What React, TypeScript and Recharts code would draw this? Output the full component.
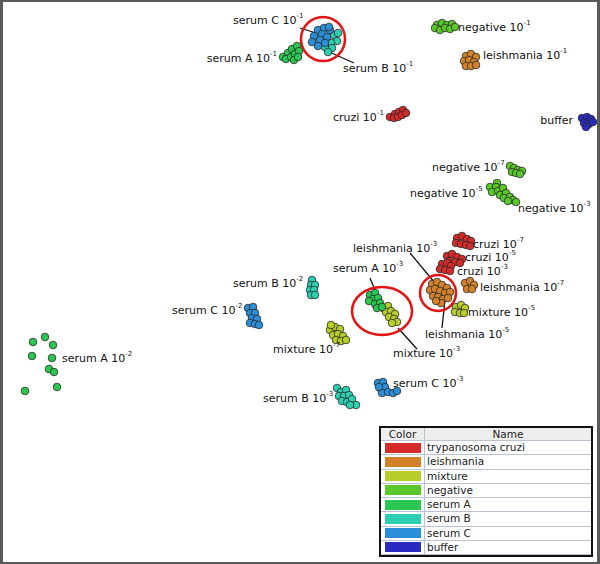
import { Legend, ReferenceDot, ReferenceLine, Scatter, ScatterChart, XAxis, YAxis } from "recharts";

type Pt = [number, number];

// point positions (x right, y down)
const cruziPoints: Pt[] = [
  [390, 117], [395, 114], [399, 112], [403, 110], [394, 118], [398, 117], [402, 115], [406, 113],
  [457, 238], [462, 236], [467, 239], [471, 241], [456, 243], [461, 244], [466, 245], [470, 246],
  [447, 256], [452, 254], [457, 257], [462, 259], [449, 261], [455, 262], [460, 263],
  [442, 264], [447, 263], [451, 266], [440, 269], [445, 270], [450, 271],
];
const leishmaniaPoints: Pt[] = [
  [466, 56], [471, 54], [476, 57], [464, 61], [469, 60], [474, 62], [466, 66], [471, 66], [476, 65],
  [465, 283], [470, 281], [474, 285], [467, 289], [472, 289],
  [432, 284], [437, 282], [442, 285], [447, 288], [430, 290], [435, 289], [440, 291], [445, 293],
  [450, 292], [433, 296], [438, 297], [443, 299], [448, 298], [441, 303], [436, 301],
];
const mixturePoints: Pt[] = [
  [456, 307], [461, 305], [465, 308], [455, 312], [460, 313], [464, 313],
  [383, 308], [388, 306], [386, 312], [391, 311], [395, 314], [389, 317], [394, 319], [397, 322], [392, 323],
  [330, 330], [335, 327], [340, 329], [333, 335], [338, 334], [343, 336], [336, 340], [341, 341], [346, 340], [331, 325],
];
const negativePoints: Pt[] = [
  [437, 25], [442, 23], [447, 25], [452, 24], [435, 28], [440, 30], [445, 28], [450, 29], [455, 27],
  [510, 166], [514, 168], [518, 170], [522, 171], [512, 172], [516, 173], [520, 174],
  [497, 183], [490, 187], [496, 187], [492, 192], [498, 191], [503, 188], [500, 195], [506, 193],
  [504, 198], [510, 197], [513, 200], [508, 201], [516, 202],
];
const serumAPoints: Pt[] = [
  [283, 57], [288, 53], [292, 49], [297, 46], [286, 59], [291, 57], [295, 54], [299, 51], [294, 60], [298, 57],
  [370, 295], [375, 293], [373, 299], [378, 298], [369, 301], [375, 304], [380, 303], [377, 308], [382, 307],
  [33, 342], [45, 337], [53, 345], [32, 356], [52, 358], [49, 369], [54, 372], [57, 387], [25, 391],
];
const serumBPoints: Pt[] = [
  [334, 35], [337, 41], [331, 43], [325, 47], [332, 48], [328, 52], [338, 33], [322, 42],
  [312, 280], [311, 285], [315, 285], [310, 290], [314, 290], [311, 295], [315, 295],
  [337, 388], [341, 392], [346, 390], [339, 396], [344, 396], [349, 395], [342, 401], [347, 402],
  [352, 399], [356, 405], [350, 405],
];
const serumCPoints: Pt[] = [
  [318, 30], [324, 28], [330, 30], [322, 34], [314, 36], [320, 40], [327, 37], [312, 42], [318, 46], [325, 43], [329, 27],
  [248, 308], [253, 307], [250, 313], [255, 313], [252, 318], [257, 319], [250, 323], [255, 324], [259, 325],
  [378, 383], [383, 382], [380, 388], [385, 387], [382, 393], [388, 392], [393, 393], [397, 391], [379, 387],
];
const bufferPoints: Pt[] = [[582, 118], [587, 117], [591, 119], [584, 123], [589, 124], [586, 127], [593, 122]];

const categories = [
  { name: "trypanosoma cruzi", color: "#d42a2a", points: cruziPoints },
  { name: "leishmania", color: "#d4822a", points: leishmaniaPoints },
  { name: "mixture", color: "#b8cc2a", points: mixturePoints },
  { name: "negative", color: "#5ac82a", points: negativePoints },
  { name: "serum A", color: "#2ac850", points: serumAPoints },
  { name: "serum B", color: "#2ad0b0", points: serumBPoints },
  { name: "serum C", color: "#2a8ed8", points: serumCPoints },
  { name: "buffer", color: "#2a2ac0", points: bufferPoints },
];

// cluster labels: text, exponent, anchor point, text anchor
const labels = [
  { x: 233, y: 20, text: "serum C 10", exp: "-1", anchor: "start" },
  { x: 277, y: 58, text: "serum A 10", exp: "-1", anchor: "end" },
  { x: 343, y: 68, text: "serum B 10", exp: "-1", anchor: "start" },
  { x: 458, y: 27, text: "negative 10", exp: "-1", anchor: "start" },
  { x: 483, y: 55, text: "leishmania 10", exp: "-1", anchor: "start" },
  { x: 573, y: 120, text: "buffer", exp: "", anchor: "end" },
  { x: 333, y: 117, text: "cruzi 10", exp: "-1", anchor: "start" },
  { x: 432, y: 167, text: "negative 10", exp: "-7", anchor: "start" },
  { x: 410, y: 193, text: "negative 10", exp: "-5", anchor: "start" },
  { x: 518, y: 208, text: "negative 10", exp: "-3", anchor: "start" },
  { x: 473, y: 244, text: "cruzi 10", exp: "-7", anchor: "start" },
  { x: 465, y: 257, text: "cruzi 10", exp: "-5", anchor: "start" },
  { x: 457, y: 271, text: "cruzi 10", exp: "-3", anchor: "start" },
  { x: 353, y: 248, text: "leishmania 10", exp: "-3", anchor: "start" },
  { x: 480, y: 287, text: "leishmania 10", exp: "-7", anchor: "start" },
  { x: 468, y: 312, text: "mixture 10", exp: "-5", anchor: "start" },
  { x: 425, y: 334, text: "leishmania 10", exp: "-5", anchor: "start" },
  { x: 333, y: 268, text: "serum A 10", exp: "-3", anchor: "start" },
  { x: 393, y: 353, text: "mixture 10", exp: "-3", anchor: "start" },
  { x: 233, y: 283, text: "serum B 10", exp: "-2", anchor: "start" },
  { x: 172, y: 310, text: "serum C 10", exp: "-2", anchor: "start" },
  { x: 273, y: 349, text: "mixture 10", exp: "-7", anchor: "start" },
  { x: 62, y: 358, text: "serum A 10", exp: "-2", anchor: "start" },
  { x: 263, y: 398, text: "serum B 10", exp: "-3", anchor: "start" },
  { x: 393, y: 383, text: "serum C 10", exp: "-3", anchor: "start" },
];

const leaders = [
  [300, 28, 316, 33],
  [327, 51, 354, 63],
  [410, 253, 435, 283],
  [445, 300, 442, 328],
  [370, 278, 375, 290],
  [398, 328, 417, 349],
];

const highlights = [
  { x: 323, y: 39, rx: 22, ry: 22 },
  { x: 438, y: 293, rx: 18, ry: 18 },
  { x: 382, y: 311, rx: 30, ry: 24 },
];

const FONT = "'DejaVu Sans', Verdana, sans-serif";

function LegendTable({ payload }: any) {
  const byName: Record<string, string> = {};
  (payload || []).forEach((p: any) => {
    byName[p.value] = p.color;
  });
  // keep the legend in the category order, not alphabetical
  const items = categories.map((c) => ({ value: c.name, color: byName[c.name] || c.color }));
  const cell = { borderBottom: "1px solid #b9c3d3", boxSizing: "border-box" as const };
  return (
    <div
      style={{
        width: 214,
        height: 131,
        border: "2px solid #111",
        boxSizing: "border-box",
        background: "#fff",
        fontFamily: FONT,
        fontSize: 10.5,
        color: "#222",
      }}
    >
      <div style={{ display: "flex", height: 13, background: "#eeeeee", ...cell }}>
        <div style={{ width: 43, textAlign: "center", borderRight: "1px solid #b9c3d3", lineHeight: "12px" }}>Color</div>
        <div style={{ flex: 1, textAlign: "center", lineHeight: "12px" }}>Name</div>
      </div>
      {items.map((p) => (
        <div key={p.value} style={{ display: "flex", height: 14.25, ...cell }}>
          <div style={{ width: 43, borderRight: "1px solid #b9c3d3", display: "flex", alignItems: "center", justifyContent: "center" }}>
            <div style={{ width: 36, height: 10, background: p.color }} />
          </div>
          <div style={{ flex: 1, paddingLeft: 2, lineHeight: "13px", whiteSpace: "nowrap" }}>{p.value}</div>
        </div>
      ))}
    </div>
  );
}

const dotShape = (color: string) => (p: any) => (
  <circle cx={p.cx} cy={p.cy} r={3.8} fill={color} stroke="#2a2a2a" strokeWidth={0.8} />
);

const labelShape = (p: any) => {
  const d = p.payload;
  return (
    <text x={p.cx} y={p.cy} textAnchor={d.anchor} dominantBaseline="central" fontSize={11} fontFamily={FONT} fill="#111">
      {d.text}
      {d.exp ? (
        <tspan fontSize={7} dy={-4}>
          {d.exp}
        </tspan>
      ) : null}
    </text>
  );
};

export default function App() {
  return (
    <div style={{ position: "absolute", left: 0, top: 0, width: 600, height: 564, background: "#fff" }}>
      <ScatterChart width={600} height={564} margin={{ top: 0, right: 0, bottom: 0, left: 0 }}>
        <XAxis type="number" dataKey="x" domain={[0, 600]} hide />
        <YAxis type="number" dataKey="y" domain={[0, 564]} reversed hide />
        {highlights.map((h, i) => (
          <ReferenceDot
            key={i}
            x={h.x}
            y={h.y}
            shape={(p: any) => (
              <ellipse cx={p.cx} cy={p.cy} rx={h.rx} ry={h.ry} fill="none" stroke="#e41414" strokeWidth={2.5} />
            )}
          />
        ))}
        {leaders.map((l, i) => (
          <ReferenceLine
            key={i}
            segment={[
              { x: l[0], y: l[1] },
              { x: l[2], y: l[3] },
            ]}
            stroke="#111"
            strokeWidth={1.3}
          />
        ))}
        {categories.map((c) => (
          <Scatter
            key={c.name}
            name={c.name}
            data={c.points.map(([x, y]) => ({ x, y }))}
            fill={c.color}
            shape={dotShape(c.color)}
            isAnimationActive={false}
          />
        ))}
        <Scatter name="labels" data={labels} legendType="none" shape={labelShape} isAnimationActive={false} />
        <Legend
          layout="vertical"
          align="center"
          verticalAlign="middle"
          content={(props: any) => <LegendTable payload={props.payload} />}
          wrapperStyle={{ position: "absolute", left: 379, top: 426, width: 214, height: 131 }}
        />
      </ScatterChart>
      <div
        style={{
          position: "absolute",
          left: 0,
          top: 0,
          width: 600,
          height: 564,
          boxSizing: "border-box",
          borderTop: "2px solid #5a5a5a",
          borderLeft: "3px solid #5a5a5a",
          borderRight: "3px solid #5a5a5a",
          borderBottom: "2px solid #5a5a5a",
          pointerEvents: "none",
        }}
      />
    </div>
  );
}
